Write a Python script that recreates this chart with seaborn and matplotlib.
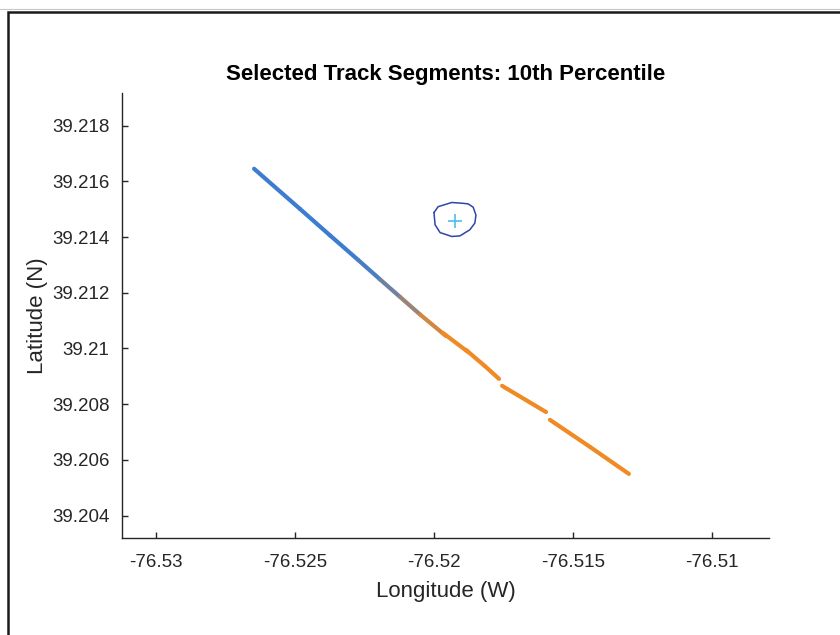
import numpy as np
import pandas as pd
import seaborn as sns
import matplotlib
matplotlib.use("Agg")
import matplotlib.pyplot as plt
from matplotlib.colors import to_rgb
from matplotlib.patches import Rectangle

# Track segments (longitude W, latitude N); each list is one contiguous piece
seg_lon = [
    [-76.52647, -76.52482, -76.52374, -76.52273, -76.52194, -76.52122, -76.52050, -76.51957],
    [-76.51968, -76.51878],
    [-76.51885, -76.51817, -76.51766],
    [-76.51755, -76.51597],
    [-76.51583, -76.51439, -76.51299],
]
seg_lat = [
    [39.21645, 39.21501, 39.21406, 39.21318, 39.21248, 39.21185, 39.21122, 39.21045],
    [39.21056, 39.20988],
    [39.20995, 39.20937, 39.20891],
    [39.20866, 39.20772],
    [39.20744, 39.20647, 39.20550],
]
# Colour position along the blue -> orange ramp at each vertex
seg_mix = [
    [0.0, 0.0, 0.0, 0.0, 0.15, 0.4, 0.65, 1.0],
    [1.0, 1.0],
    [1.0, 1.0, 1.0],
    [1.0, 1.0],
    [1.0, 1.0, 1.0],
]

# Station boundary polygon and its centre
ring_lon = [-76.52000, -76.51985, -76.51936, -76.51895, -76.51877, -76.51859, -76.51849,
            -76.51853, -76.51871, -76.51907, -76.51936, -76.51978, -76.51996, -76.52000]
ring_lat = [39.21488, 39.21509, 39.21524, 39.21521, 39.21519, 39.21507, 39.21479,
            39.21450, 39.21426, 39.21404, 39.21402, 39.21416, 39.21444, 39.21488]
centre_lon = [-76.51924]
centre_lat = [39.21459]

x_ticks = [-76.53, -76.525, -76.52, -76.515, -76.51]
x_ticklabels = ["-76.53", "-76.525", "-76.52", "-76.515", "-76.51"]
y_ticks = [39.204, 39.206, 39.208, 39.21, 39.212, 39.214, 39.216, 39.218]
y_ticklabels = ["39.204", "39.206", "39.208", "39.21", "39.212", "39.214", "39.216", "39.218"]

BLUE = np.array(to_rgb("#3d7dcf"))
ORANGE = np.array(to_rgb("#f08a24"))
AX_COLOR = "#262626"

sns.set_theme(style="white")
plt.rcParams["font.family"] = ["Liberation Sans", "DejaVu Sans"]

fig = plt.figure(figsize=(8.4, 6.35), dpi=100)
fig.patch.set_facecolor("white")
ax = fig.add_axes([0.14524, 0.15323, 0.77059, 0.70079])

# Track pieces, coloured piecewise along the ramp
for lons, lats, mix in zip(seg_lon, seg_lat, seg_mix):
    for i in range(len(lons) - 1):
        t = 0.5 * (mix[i] + mix[i + 1])
        col = (1 - t) * BLUE + t * ORANGE
        sns.lineplot(x=lons[i:i + 2], y=lats[i:i + 2], color=col, lw=3.0,
                     sort=False, estimator=None, ax=ax,
                     solid_capstyle="round")

sns.lineplot(x=ring_lon, y=ring_lat, color="#2f45ad", lw=1.1, sort=False,
             estimator=None, ax=ax)
sns.scatterplot(x=centre_lon, y=centre_lat, marker="+", s=110, color="#4dbeee",
                linewidth=1.2, ax=ax, zorder=5)

ax.set_xlim(-76.53122, -76.50794)
ax.set_ylim(39.20321, 39.21918)
ax.set_xticks(x_ticks)
ax.set_xticklabels(x_ticklabels)
ax.set_yticks(y_ticks)
ax.set_yticklabels(y_ticklabels)

for side in ("top", "right"):
    ax.spines[side].set_visible(False)
for side in ("left", "bottom"):
    ax.spines[side].set_color(AX_COLOR)
    ax.spines[side].set_linewidth(1.0)
ax.tick_params(direction="in", length=4.5, width=1.0, colors=AX_COLOR,
               labelsize=13.5, bottom=True, left=True)
ax.tick_params(axis="x", pad=12)
ax.tick_params(axis="y", pad=9)
for lab in ax.get_xticklabels() + ax.get_yticklabels():
    lab.set_color(AX_COLOR)

ax.set_xlabel("Longitude (W)", fontsize=16, color=AX_COLOR, labelpad=7)
ax.set_ylabel("Latitude (N)", fontsize=16, color=AX_COLOR, labelpad=3)
ax.set_title("Selected Track Segments: 10th Percentile", fontsize=16,
             fontweight="bold", color="black", pad=9)

# Window frame around the figure
fig.patches.append(Rectangle((7.5 / 840, -0.1), 1.2, (635 - 11.5) / 635 + 0.1,
                             transform=fig.transFigure, fill=False,
                             edgecolor="#1a1a1a", lw=1.8, zorder=10))
fig.add_artist(plt.Line2D([0, 1], [1 - 9 / 635, 1 - 9 / 635], transform=fig.transFigure,
                          color="#c8c8c8", lw=0.8))

fig.savefig("out.png", dpi=100, facecolor="white")
